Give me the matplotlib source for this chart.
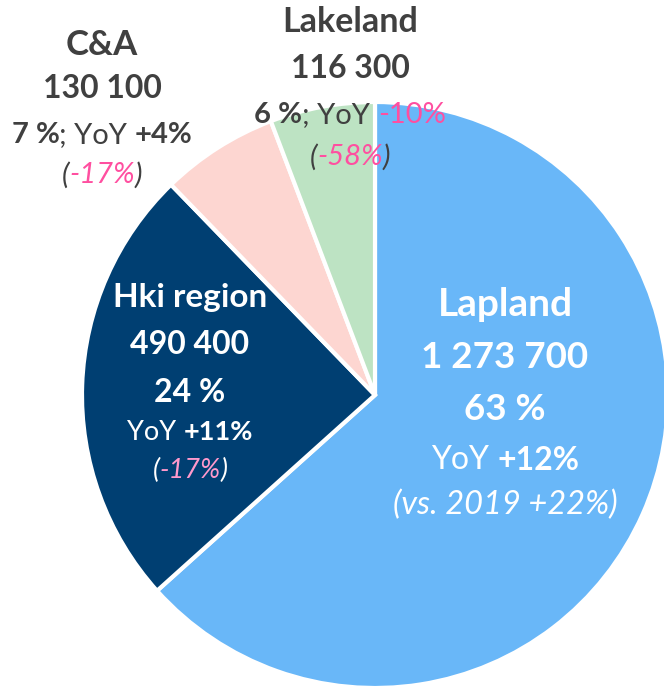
import matplotlib
matplotlib.use("Agg")
import matplotlib.pyplot as plt

plt.rcParams['font.family'] = ['Lato', 'DejaVu Sans']

# data
regions = ["Lapland", "Hki region", "C&A", "Lakeland"]
visitors = [1273700, 490400, 130100, 116300]
share_lbl = ["63 %", "24 %", "7 %", "6 %"]
yoy_lbl = ["+12%", "+11%", "+4%", "-10%"]
vs2019_lbl = ["+22%", "-17%", "-17%", "-58%"]
colors = ["#69B7F8", "#003F72", "#FDD6D1", "#BDE3C3"]

W, H = 664, 687
fig = plt.figure(figsize=(W / 100, H / 100), dpi=100)
ax = fig.add_axes([0, 0, 1, 1])
ax.set_xlim(0, W)
ax.set_ylim(0, H)
ax.axis("off")

ax.pie(visitors, colors=colors, startangle=90, counterclock=False,
       center=(375, H - 395), radius=293,
       wedgeprops=dict(edgecolor="white", linewidth=3))
ax.set_xlim(0, W)
ax.set_ylim(0, H)

fig.canvas.draw()
renderer = fig.canvas.get_renderer()

GRAY = "#404040"
PINK = "#FF4FA0"


def fmt(n):
    return f"{n:,}".replace(",", " ")


def line(xc, ypix, parts, size):
    # parts: (text, weight, style, color); centred as one line
    texts = []
    for s, w, st, c in parts:
        t = ax.text(0, H - ypix, s, fontsize=size, fontweight=w, fontstyle=st,
                    color=c, ha="left", va="center")
        texts.append(t)
    widths = [t.get_window_extent(renderer).width for t in texts]
    x = xc - sum(widths) / 2
    for t, w in zip(texts, widths):
        t.set_x(x)
        x += w


def block(xc, lines):
    for ypix, parts, size in lines:
        line(xc, ypix, parts, size)


# Lapland
i = 0
block(505, [
    (305, [(regions[i], "bold", "normal", "white")], 28),
    (358, [(fmt(visitors[i]), "bold", "normal", "white")], 26.5),
    (410, [(share_lbl[i], "bold", "normal", "white")], 26.5),
    (460, [("YoY ", "normal", "normal", "white"), (yoy_lbl[i], "bold", "normal", "white")], 23),
    (505, [(f"(vs. 2019 {vs2019_lbl[i]})", "normal", "italic", "white")], 23.5),
])

# Hki region
i = 1
block(190, [
    (298, [(regions[i], "bold", "normal", "white")], 24),
    (345, [(fmt(visitors[i]), "bold", "normal", "white")], 23),
    (392, [(share_lbl[i], "bold", "normal", "white")], 23),
    (432, [("YoY ", "normal", "normal", "white"), (yoy_lbl[i], "bold", "normal", "white")], 19.5),
    (470, [("(", "normal", "italic", "white"), (vs2019_lbl[i], "normal", "italic", "#FF99CC"),
           (")", "normal", "italic", "white")], 19.5),
])

# C&A
i = 2
block(102, [
    (45, [(regions[i], "bold", "normal", GRAY)], 25),
    (88, [(fmt(visitors[i]), "bold", "normal", GRAY)], 23),
    (135, [(share_lbl[i], "bold", "normal", GRAY), ("; YoY ", "normal", "normal", GRAY),
           (yoy_lbl[i], "bold", "normal", GRAY)], 21),
    (175, [("(", "normal", "italic", GRAY), (vs2019_lbl[i], "normal", "italic", PINK),
           (")", "normal", "italic", GRAY)], 21),
])

# Lakeland
i = 3
block(350, [
    (22, [(regions[i], "bold", "normal", GRAY)], 24.5),
    (68, [(fmt(visitors[i]), "bold", "normal", GRAY)], 23),
    (115, [(share_lbl[i], "bold", "normal", GRAY), ("; YoY ", "normal", "normal", GRAY),
           (yoy_lbl[i], "normal", "normal", PINK)], 21),
    (157, [("(", "normal", "italic", GRAY), (vs2019_lbl[i], "normal", "italic", PINK),
            (")", "normal", "italic", GRAY)], 21),
])

fig.savefig("out.png", dpi=100)
